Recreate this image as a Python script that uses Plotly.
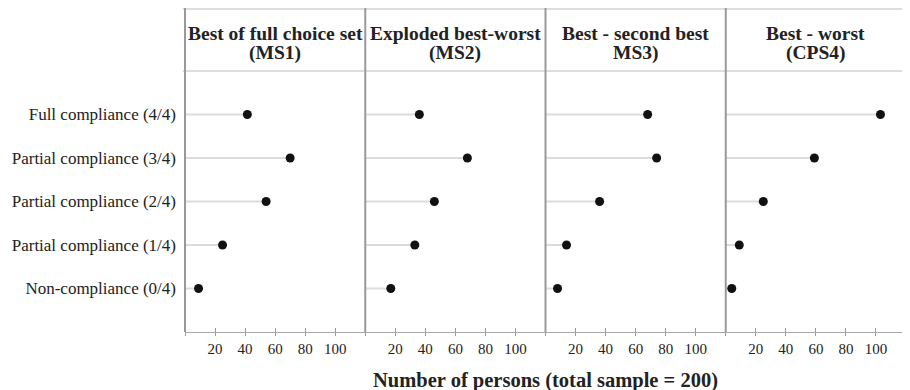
import plotly.graph_objects as go

categories = ["Full compliance (4/4)", "Partial compliance (3/4)", "Partial compliance (2/4)",
              "Partial compliance (1/4)", "Non-compliance (0/4)"]
panel_title_line1 = ["Best of full choice set", "Exploded best-worst", "Best - second best", "Best - worst"]
panel_title_line2 = ["(MS1)", "(MS2)", "MS3)", "(CPS4)"]
ms1 = [41.5, 70, 54, 25, 9]
ms2 = [36, 68, 46, 33, 17]
ms3 = [68, 74, 36, 14, 8]
cps4 = [103, 59, 25, 9, 4]
series = [ms1, ms2, ms3, cps4]
tick_vals = [0, 20, 40, 60, 80, 100, 120]
tick_text = ["", "20", "40", "60", "80", "100", ""]
x_title = "Number of persons (total sample = 200)"

FONT = "Liberation Serif"
OFF = 8  # default page body margin
PLOT_TOP, PLOT_BOT = 71, 332
PLOT_H = float(PLOT_BOT - PLOT_TOP)
HEADER_TOP = 9


def py(ypix):
    return (PLOT_BOT - ypix) / PLOT_H


fig = go.Figure()
n = len(series)
for i, vals in enumerate(series):
    ax = "" if i == 0 else str(i + 1)
    lx, ly = [], []
    for c, v in zip(categories, vals):
        lx += [0, v, None]
        ly += [c, c, None]
    fig.add_trace(go.Scatter(x=lx, y=ly, mode="lines", line=dict(color="#dcdcdc", width=2),
                             xaxis="x" + ax, yaxis="y", hoverinfo="skip", showlegend=False))
    fig.add_trace(go.Scatter(x=vals, y=categories, mode="markers",
                             marker=dict(color="#111111", size=9),
                             xaxis="x" + ax, yaxis="y", showlegend=False))
    d0, d1 = i / n, (i + 1) / n
    fig.layout["xaxis" + ax] = dict(domain=[d0, d1], range=[0, 120], anchor="y", automargin=False,
                                    tickvals=tick_vals, ticktext=tick_text,
                                    ticks="outside", ticklen=3, tickcolor="#999999", tickwidth=1,
                                    showline=True, linecolor="#aaaaaa", linewidth=1,
                                    showgrid=False, zeroline=False,
                                    tickfont=dict(family=FONT, size=15, color="#222222"))
    oax = str(n + i + 1)
    fig.layout["xaxis" + oax] = dict(overlaying="x" + ax, range=[0, 120], anchor="y", automargin=False,
                                     tickvals=tick_vals, showticklabels=False,
                                     ticks="inside", ticklen=4, tickcolor="#999999", tickwidth=1,
                                     showline=False, showgrid=False, zeroline=False)
    fig.add_trace(go.Scatter(x=[None], y=[None], xaxis="x" + oax, yaxis="y",
                             showlegend=False, hoverinfo="skip"))
    for txt, ypix in [(panel_title_line1[i], 33), (panel_title_line2[i], 53)]:
        fig.add_annotation(text="<b>" + txt + "</b>", x=(d0 + d1) / 2, xref="paper",
                           y=py(ypix), yref="paper",
                           showarrow=False, font=dict(family=FONT, size=19.5, color="#222222"),
                           xanchor="center", yanchor="middle")
    fig.add_shape(type="line", xref="paper", yref="paper", x0=d0, x1=d0, y0=0, y1=py(HEADER_TOP - 1),
                  line=dict(color="#999999", width=2))

fig.add_shape(type="line", xref="paper", yref="paper", x0=1, x1=1, y0=0, y1=py(HEADER_TOP - 1),
              line=dict(color="#999999", width=2))
for yy in [1.0, py(HEADER_TOP)]:
    fig.add_shape(type="line", xref="paper", yref="paper", x0=-0.003, x1=1, y0=yy, y1=yy,
                  line=dict(color="#dddddd", width=2), layer="below")

fig.update_layout(
    width=910 - OFF, height=390 - OFF,
    margin=dict(l=185 - OFF, r=4, t=PLOT_TOP - OFF, b=390 - PLOT_BOT, autoexpand=False),
    paper_bgcolor="white", plot_bgcolor="white",
    yaxis=dict(type="category", categoryorder="array", categoryarray=categories, automargin=False,
               range=[5, -1], showgrid=False, zeroline=False, showline=False,
               ticks="", ticklabelstandoff=8,
               tickfont=dict(family=FONT, size=17, color="#222222")),
)
fig.add_annotation(text="<b>" + x_title + "</b>", x=0.5, xref="paper", y=py(380),
                   yref="paper", showarrow=False,
                   font=dict(family=FONT, size=20.5, color="#222222"), xanchor="center", yanchor="middle")

fig.write_html("out.html")
